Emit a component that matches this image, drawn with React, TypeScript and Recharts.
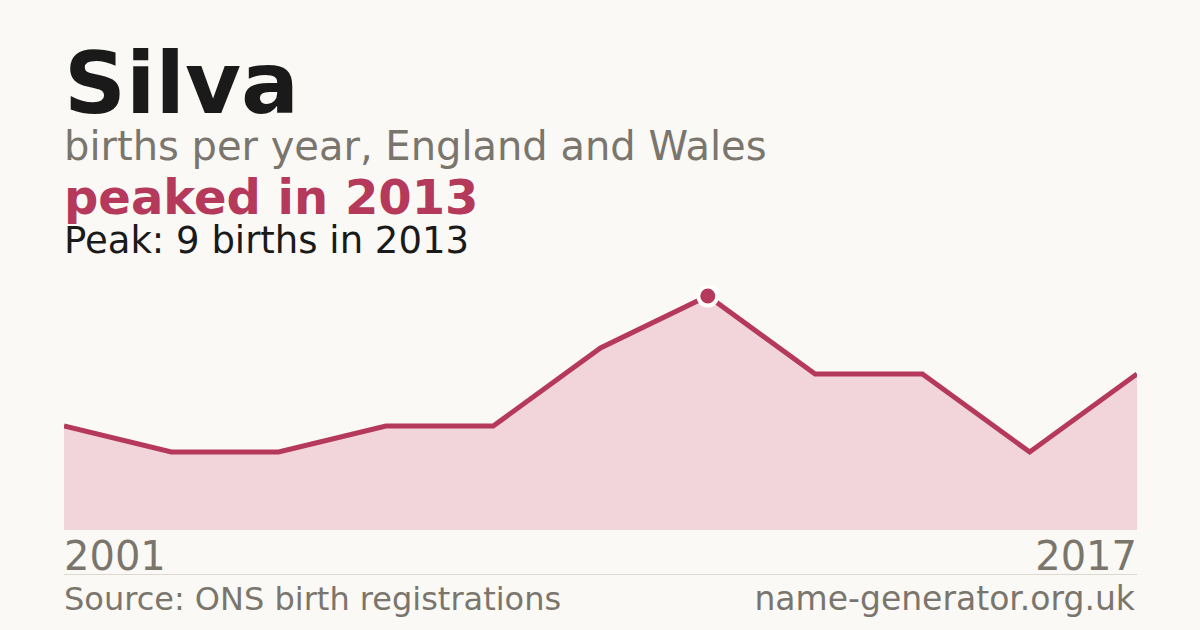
import React from 'react';
import { AreaChart, Area, XAxis, YAxis } from 'recharts';

const years = ['2001', '2003', '2005', '2007', '2009', '2011', '2013', '2014', '2015', '2016', '2017'];
const births = [4, 3, 3, 4, 4, 7, 9, 6, 6, 3, 6];

const RED = '#b5395a';
const FONT = '"DejaVu Sans", sans-serif';

const chartData = years.map((year, i) => ({ year, births: births[i] }));
const peakIndex = births.indexOf(Math.max(...births));

const PeakDot = (props: any) => {
  const { cx, cy, index } = props;
  if (index !== peakIndex) return <g key={`d${index}`} />;
  return <circle key={`d${index}`} cx={cx} cy={cy} r={9.5} fill={RED} stroke="#ffffff" strokeWidth={4} />;
};

const YearTick = (props: any) => {
  const { x, y, payload, index } = props;
  return (
    <text
      x={x}
      y={y + 40}
      textAnchor={index === 0 ? 'start' : 'end'}
      fontFamily={FONT}
      fontSize={40}
      fill="#7a756d"
    >
      {payload.value}
    </text>
  );
};

export default function App() {
  return (
    <div style={{ position: 'absolute', left: 0, top: 0, width: 1200, height: 630, background: '#faf9f5', overflow: 'hidden' }}>
      <svg width={1200} height={630} style={{ position: 'absolute', left: 0, top: 0 }}>
        <text x={64} y={113} fontFamily={FONT} fontWeight="bold" fontSize={86} fill="#1a1a1a">Silva</text>
        <text x={64} y={160} fontFamily={FONT} fontSize={40} fill="#7a756d">births per year, England and Wales</text>
        <text x={64} y={214} fontFamily={FONT} fontWeight="bold" fontSize={48} fill={RED}>peaked in 2013</text>
        <text x={64} y={253} fontFamily={FONT} fontSize={37} fill="#1a1a1a">Peak: 9 births in 2013</text>
        <line x1={64} x2={1137} y1={574.5} y2={574.5} stroke="#ddd8d0" strokeWidth={1} />
        <text x={64} y={610} fontFamily={FONT} fontSize={32} fill="#7a756d">Source: ONS birth registrations</text>
        <text x={1135} y={610} textAnchor="end" fontFamily={FONT} fontSize={33} fill="#7a756d">name-generator.org.uk</text>
      </svg>
      <div style={{ position: 'absolute', left: 64, top: 286 }}>
        <AreaChart width={1073} height={300} data={chartData} margin={{ top: 10, right: 0, bottom: 10, left: 0 }}>
          <YAxis hide domain={[0, 9]} />
          <XAxis
            dataKey="year"
            ticks={[years[0], years[years.length - 1]]}
            interval={0}
            axisLine={false}
            tickLine={false}
            tickSize={0}
            tickMargin={0}
            height={46}
            tick={<YearTick />}
          />
          <Area
            type="linear"
            dataKey="births"
            stroke={RED}
            strokeWidth={5}
            strokeLinejoin="miter"
            fill="#f2d5db"
            fillOpacity={1}
            dot={<PeakDot />}
            activeDot={false}
            isAnimationActive={false}
          />
        </AreaChart>
      </div>
    </div>
  );
}
